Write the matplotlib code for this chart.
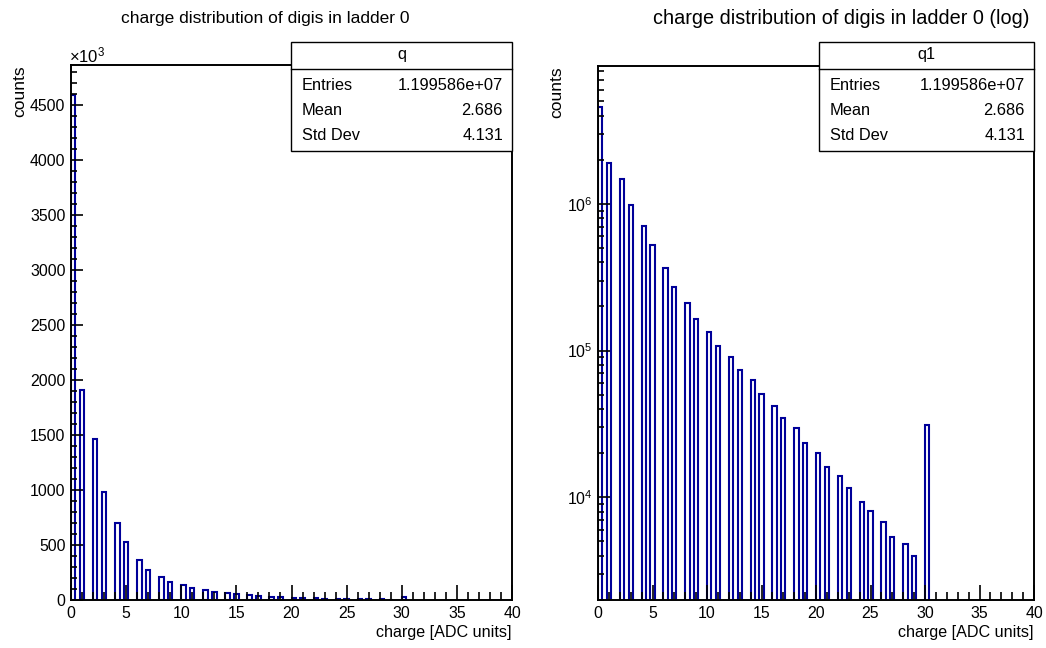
import matplotlib
matplotlib.use("Agg")
import matplotlib.pyplot as plt
from matplotlib.patches import Rectangle
from matplotlib.ticker import MultipleLocator, LogLocator, NullFormatter, FixedLocator
import numpy as np

plt.rcParams["font.family"] = ["Liberation Sans", "DejaVu Sans"]
plt.rcParams["mathtext.fontset"] = "custom"
plt.rcParams["mathtext.rm"] = "Liberation Sans"
plt.rcParams["mathtext.it"] = "Liberation Sans"

# counts per integer charge value (ADC units 0..30)
charge = list(range(31))
counts = [4.59e6, 1.905e6, 1.468e6, 9.8e5, 7.01e5, 5.25e5, 3.64e5, 2.71e5,
          2.10e5, 1.65e5, 1.33e5, 1.08e5, 9.05e4, 7.33e4, 6.32e4, 5.08e4,
          4.16e4, 3.48e4, 2.96e4, 2.34e4, 2.00e4, 1.61e4, 1.40e4, 1.15e4,
          9.25e3, 8.02e3, 6.75e3, 5.33e3, 4.81e3, 3.96e3, 3.13e4]

# histogram binning: 100 bins from 0 to 40
n_bins = 100
x_lo, x_hi = 0.0, 40.0
bw = (x_hi - x_lo) / n_bins

titles = ["charge distribution of digis in ladder 0",
          "charge distribution of digis in ladder 0 (log)"]
stat_names = ["q", "q1"]
stat_rows = [("Entries", "1.199586e+07"), ("Mean", "2.686"), ("Std Dev", "4.131")]

W, H = 1046, 648
BLUE = "#000099"
fig = plt.figure(figsize=(W / 100, H / 100), dpi=100)


def px_axes(x0, y0, x1, y1):
    return fig.add_axes([x0 / W, 1 - y1 / H, (x1 - x0) / W, (y1 - y0) / H])


def bin_left(k):
    return ((k * 5) // 2) * bw


def style_axes(ax):
    for s in ax.spines.values():
        s.set_linewidth(1.4)
    ax.tick_params(which="both", direction="in", top=False, right=False,
                   labelsize=11.4, width=1.2, pad=4)
    ax.xaxis.set_major_locator(MultipleLocator(5))
    ax.xaxis.set_minor_locator(MultipleLocator(1))
    ax.tick_params(axis="x", which="major", length=11)
    ax.tick_params(axis="x", which="minor", length=5.5)
    ax.tick_params(axis="y", which="major", length=8.8)
    ax.tick_params(axis="y", which="minor", length=4.4)
    ax.set_xlim(x_lo, x_hi)
    ax.set_xlabel("charge [ADC units]", fontsize=11.6, loc="right", labelpad=3)
    ax.set_ylabel("counts", fontsize=12.6, loc="top", labelpad=2)


def stats_box(x0, x1, y0, y1, name):
    fx0, fx1 = x0 / W, x1 / W
    fy0, fy1 = 1 - y1 / H, 1 - y0 / H
    fig.patches.append(Rectangle((fx0, fy0), fx1 - fx0, fy1 - fy0,
                                 transform=fig.transFigure, facecolor="white",
                                 edgecolor="black", lw=1.0, zorder=5))
    hdr = 69
    fig.add_artist(plt.Line2D([fx0, fx1], [1 - hdr / H, 1 - hdr / H],
                              color="black", lw=1.0, zorder=6))
    fig.text((fx0 + fx1) / 2, 1 - 55 / H, name, ha="center", va="center",
             fontsize=11.8, zorder=7)
    for i, (lab, val) in enumerate(stat_rows):
        yy = 1 - (85 + 25.5 * i) / H
        fig.text(fx0 + 11 / W, yy, lab, ha="left", va="center", fontsize=11.8, zorder=7)
        fig.text(fx1 - 9 / W, yy, val, ha="right", va="center", fontsize=11.8, zorder=7)


lefts = [bin_left(k) for k in charge]

# ── Left: linear ───────────────────────────────────────────────────────────
ax1 = px_axes(71, 65, 512, 600)
vals_k = [c / 1e3 for c in counts]
ax1.bar(lefts, vals_k, width=bw, align="edge", bottom=0, facecolor="none",
        edgecolor=BLUE, lw=1.5, zorder=1)
style_axes(ax1)
ax1.set_ylim(0, 4864)
ax1.yaxis.set_major_locator(MultipleLocator(500))
ax1.yaxis.set_minor_locator(MultipleLocator(100))
fig.text(69 / W, 1 - 55 / H, r"$\times10^{3}$", ha="left", va="center", fontsize=12)
fig.text(265 / W, 1 - 19 / H, titles[0], ha="center", va="center", fontsize=12.5)
stats_box(291, 512, 42, 151, stat_names[0])

# ── Right: log ─────────────────────────────────────────────────────────────
ax2 = px_axes(598, 66, 1034, 600)
ax2.bar(lefts, counts, width=bw, align="edge", bottom=1, facecolor="none",
        edgecolor=BLUE, lw=1.5, zorder=1)
ax2.set_yscale("log")
style_axes(ax2)
ax2.set_ylim(1995, 8.7e6)
ax2.yaxis.set_major_locator(FixedLocator([1e4, 1e5, 1e6]))
ax2.yaxis.set_minor_locator(LogLocator(base=10, subs=np.arange(2, 10), numticks=20))
ax2.yaxis.set_minor_formatter(NullFormatter())
fig.text(841 / W, 1 - 19 / H, titles[1], ha="center", va="center", fontsize=14.3)
stats_box(819, 1034, 42, 151, stat_names[1])

fig.savefig("out.png", dpi=100)
